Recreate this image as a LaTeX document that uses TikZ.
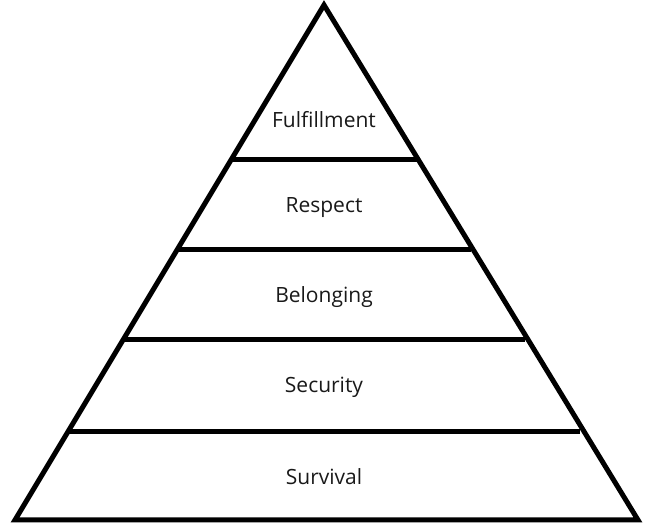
\documentclass[tikz,border=0pt]{standalone}
\usepackage{fontspec}
\setmainfont{Open Sans}
\begin{document}
\begin{tikzpicture}[x=1pt,y=-1pt,line width=5pt,
    level/.style={font=\fontsize{21}{24}\selectfont,text=black!90}]
      \useasboundingbox (0,0) rectangle (654,526);
      \draw
        (324,5) coordinate (top)
        (15,520) coordinate (left)
        (638,520) coordinate (right)
        (231,160) coordinate (l1) (417,160) coordinate (r1)
        (177,250) coordinate (l2) (471,250) coordinate (r2)
        (123,340) coordinate (l3) (525,340) coordinate (r3)
        (68,432) coordinate (l4) (580,432) coordinate (r4);
      \draw (324,120) node[level] (fulfillment){Fulfillment}
        (324,208) node[level] (respect){Respect}
        (324,297) node[level] (belonging){Belonging}
        (324,387) node[level] (security){Security}
        (324,477) node[level] (survival){Survival};
      \begin{scope}[-]
        \draw (top) -- (left) -- (right) -- cycle;
        \draw (l1) to (r1);
        \draw (l2) to (r2);
        \draw (l3) to (r3);
        \draw (l4) to (r4);
      \end{scope}
    \end{tikzpicture}
\end{document}
